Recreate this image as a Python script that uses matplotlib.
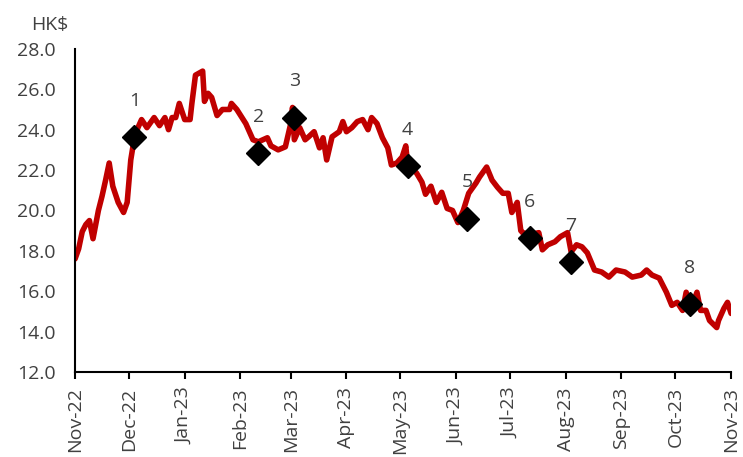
import matplotlib
matplotlib.use("Agg")
import matplotlib.pyplot as plt
import matplotlib.dates as mdates
import pandas as pd

# share price, HK$
dates = [
    "2022-11-01", "2022-11-03", "2022-11-05", "2022-11-07", "2022-11-09", "2022-11-11",
    "2022-11-14", "2022-11-16", "2022-11-18", "2022-11-20", "2022-11-22", "2022-11-25",
    "2022-11-28", "2022-11-30", "2022-12-02", "2022-12-04", "2022-12-06", "2022-12-08",
    "2022-12-11", "2022-12-15", "2022-12-18", "2022-12-21", "2022-12-23", "2022-12-25",
    "2022-12-27", "2022-12-29", "2023-01-01", "2023-01-04", "2023-01-05", "2023-01-07",
    "2023-01-11", "2023-01-12", "2023-01-14", "2023-01-16", "2023-01-19", "2023-01-22",
    "2023-01-26", "2023-01-27", "2023-01-30", "2023-02-04", "2023-02-08", "2023-02-11",
    "2023-02-16", "2023-02-18", "2023-02-22", "2023-02-26", "2023-03-01", "2023-03-02",
    "2023-03-03", "2023-03-06", "2023-03-09", "2023-03-11", "2023-03-14", "2023-03-17",
    "2023-03-19", "2023-03-21", "2023-03-24", "2023-03-28", "2023-03-30", "2023-04-01",
    "2023-04-04", "2023-04-07", "2023-04-10", "2023-04-13", "2023-04-15", "2023-04-18",
    "2023-04-21", "2023-04-24", "2023-04-26", "2023-04-29", "2023-05-02", "2023-05-04",
    "2023-05-05", "2023-05-10", "2023-05-13", "2023-05-15", "2023-05-18", "2023-05-21",
    "2023-05-24", "2023-05-27", "2023-05-30", "2023-06-02", "2023-06-05", "2023-06-08",
    "2023-06-12", "2023-06-14", "2023-06-18", "2023-06-21", "2023-06-24", "2023-06-27",
    "2023-06-30", "2023-07-02", "2023-07-05", "2023-07-07", "2023-07-08", "2023-07-12",
    "2023-07-17", "2023-07-19", "2023-07-22", "2023-07-26", "2023-07-29", "2023-08-02",
    "2023-08-04", "2023-08-07", "2023-08-10", "2023-08-13", "2023-08-17", "2023-08-21",
    "2023-08-25", "2023-08-29", "2023-09-03", "2023-09-07", "2023-09-12", "2023-09-15",
    "2023-09-18", "2023-09-22", "2023-09-26", "2023-09-29", "2023-10-02", "2023-10-05",
    "2023-10-07", "2023-10-09", "2023-10-10", "2023-10-13", "2023-10-15", "2023-10-18",
    "2023-10-20", "2023-10-24", "2023-10-25", "2023-10-28", "2023-10-30", "2023-11-01",
]
prices = [
    17.6, 18.1, 18.95, 19.3, 19.5, 18.6,
    20.0, 20.7, 21.5, 22.35, 21.2, 20.4,
    19.9, 20.4, 22.5, 23.6, 24.1, 24.5,
    24.1, 24.6, 24.2, 24.6, 24.0, 24.6,
    24.6, 25.3, 24.5, 24.5, 25.3, 26.7,
    26.9, 25.4, 25.8, 25.6, 24.7, 25.0,
    25.0, 25.3, 25.0, 24.3, 23.5, 23.4,
    23.6, 23.2, 23.0, 23.15, 24.3, 25.1,
    23.5, 24.1, 23.5, 23.65, 23.9, 23.1,
    23.6, 22.5, 23.65, 23.9, 24.4, 23.9,
    24.1, 24.4, 24.5, 24.0, 24.6, 24.3,
    23.6, 23.1, 22.25, 22.35, 22.65, 23.2,
    22.3, 21.85, 21.4, 20.8, 21.2, 20.4,
    20.9, 20.1, 20.0, 19.4, 20.0, 20.85,
    21.35, 21.65, 22.15, 21.5, 21.15, 20.85,
    20.85, 19.9, 20.4, 19.0, 18.9, 18.8,
    18.9, 18.05, 18.3, 18.45, 18.7, 18.9,
    17.95, 18.3, 18.2, 17.9, 17.05, 16.95,
    16.7, 17.05, 16.95, 16.7, 16.8, 17.05,
    16.8, 16.65, 15.95, 15.3, 15.45, 15.05,
    15.95, 15.2, 15.2, 15.95, 15.05, 15.05,
    14.55, 14.2, 14.55, 15.15, 15.45, 14.9,
]

# numbered events
event_dates = ["2022-12-04", "2023-02-11", "2023-03-03", "2023-05-05",
               "2023-06-07", "2023-07-12", "2023-08-04", "2023-10-09"]
event_prices = [23.65, 22.85, 24.6, 22.2, 19.6, 18.65, 17.45, 15.35]
event_labels = ["1", "2", "3", "4", "5", "6", "7", "8"]

plt.rcParams['font.family'] = ['Open Sans', 'DejaVu Sans']
text_col = '#404040'

fig = plt.figure(figsize=(7.43, 4.57), dpi=100)
ax = fig.add_axes([0.101, 0.186, 0.883, 0.707])

x = pd.to_datetime(dates)
ax.plot(x, prices, color='#c00000', linewidth=4.0, solid_joinstyle='round',
        solid_capstyle='round', zorder=2)

ex = pd.to_datetime(event_dates)
ax.plot(ex, event_prices, linestyle='none', marker='D', markersize=12,
        color='black', zorder=3)
for d, p, lab in zip(ex, event_prices, event_labels):
    ax.annotate(lab, (d, p), xytext=(0, 26), textcoords='offset points',
                ha='center', va='center', fontsize=14, color=text_col)

ax.set_xlim(pd.Timestamp("2022-11-01"), pd.Timestamp("2023-11-01"))
ax.set_ylim(12, 28)
ax.set_yticks(range(12, 29, 2))
ax.yaxis.set_major_formatter(plt.FormatStrFormatter('%.1f'))
ax.xaxis.set_major_locator(mdates.MonthLocator())
ax.xaxis.set_major_formatter(mdates.DateFormatter('%b-%y'))

for s in ['top', 'right']:
    ax.spines[s].set_visible(False)
for s in ['left', 'bottom']:
    ax.spines[s].set_linewidth(1.5)
    ax.spines[s].set_color('black')

ax.tick_params(axis='y', length=0, pad=14, labelsize=14, labelcolor=text_col)
ax.tick_params(axis='x', length=5, width=1.5, pad=6, labelsize=14,
               labelcolor=text_col, labelrotation=90)

fig.text(50 / 743, 1 - 25 / 457, 'HK$', ha='center', va='center',
         fontsize=14, color=text_col)

fig.savefig("out.png", dpi=100)
